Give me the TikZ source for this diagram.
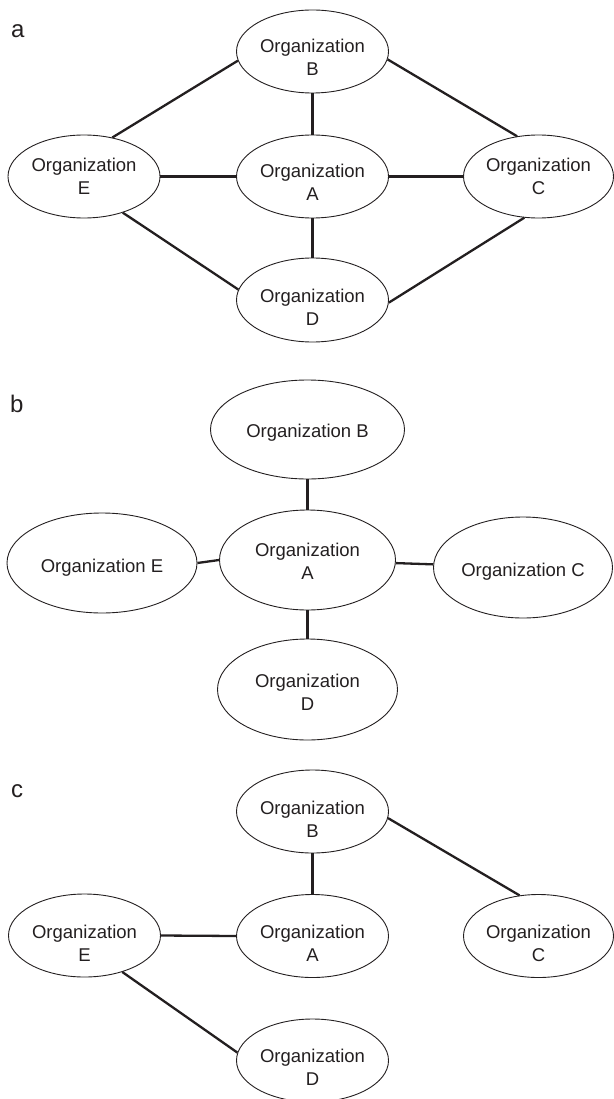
\documentclass[tikz,border=0pt]{standalone}
\usepackage{fontspec}
\setmainfont{Liberation Sans}
\usetikzlibrary{shapes.geometric}
\definecolor{ink}{HTML}{231F20}
\begin{document}
\begin{tikzpicture}[x=1pt,y=-1pt,
  org/.style 2 args={ellipse, draw=ink, line width=0.9pt, inner sep=0pt,
    minimum width=#1, minimum height=#2},
  txt/.style={font=\fontsize{18.5}{22.7}\selectfont, text=ink, align=center, inner sep=0pt},
  link/.style={draw=ink, line width=2.3pt},
  panel/.style={font=\fontsize{24}{28}\selectfont, text=ink, anchor=base west, inner sep=0pt}]
\useasboundingbox (0,0) rectangle (613,1099);

% ---------- panel a ----------
\node[panel] (la) at (11,38) {a};
\node[org={152pt}{83pt}, label={[txt,yshift=-6pt]center:Organization\\B}] (Ba) at (312.5,51.5) {};
\node[org={152pt}{83pt}, label={[txt]center:Organization\\E}] (Ea) at (84,176.5) {};
\node[org={152pt}{83pt}, label={[txt,yshift=-6pt]center:Organization\\A}] (Aa) at (312.5,176.5) {};
\node[org={150pt}{83pt}, label={[txt]center:Organization\\C}] (Ca) at (538.5,176.5) {};
\node[org={152pt}{84pt}, label={[txt,yshift=-7.5pt]center:Organization\\D}] (Da) at (312.5,300) {};
\draw[link] (Ea.54) -- (Ba.187);
\draw[link] (Ba.354) -- (Ca.118);
\draw[link] (Ea.317) -- (Da.172);
\draw[link] (Ca.251) -- (Da.358);
\draw[link] (Ba.south) -- (Aa.north);
\draw[link] (Aa.south) -- (Da.north);
\draw[link] (Ea.east) -- (Aa.west);
\draw[link] (Aa.east) -- (Ca.west);

% ---------- panel b ----------
\node[panel] (lb) at (10,412) {b};
\node[org={194pt}{99pt}, label={[txt,yshift=-3pt]center:Organization B}] (Bb) at (307.5,429.5) {};
\node[org={190pt}{100pt}, label={[txt,yshift=-4.5pt]center:Organization E}] (Eb) at (102,563) {};
\node[org={176pt}{100pt}, label={[txt,yshift=-1.5pt]center:Organization\\A}] (Ab) at (307.5,560) {};
\node[org={179pt}{101pt}, label={[txt,yshift=-4pt]center:Organization C}] (Cb) at (523,567.5) {};
\node[org={180pt}{101pt}, label={[txt,yshift=-2.5pt]center:Organization\\D}] (Db) at (307.5,689.5) {};
\draw[link] (Bb.south) -- (Ab.north);
\draw[link] (Eb.east) -- (Ab.west);
\draw[link] (Ab.-2) -- (Cb.178);
\draw[link] (Ab.south) -- (Db.north);

% ---------- panel c ----------
\node[panel] (lc) at (11,797) {c};
\node[org={152pt}{83pt}, label={[txt,yshift=-8pt]center:Organization\\B}] (Bc) at (312.5,811.5) {};
\node[org={152pt}{83pt}, label={[txt,yshift=-7.5pt]center:Organization\\E}] (Ec) at (84.5,935.5) {};
\node[org={152pt}{83pt}, label={[txt,yshift=-7.5pt]center:Organization\\A}] (Ac) at (312.5,936) {};
\node[org={150pt}{83pt}, label={[txt,yshift=-7.5pt]center:Organization\\C}] (Cc) at (538.5,936) {};
\node[org={152pt}{83pt}, label={[txt,yshift=-7pt]center:Organization\\D}] (Dc) at (312.5,1060.5) {};
\draw[link] (Bc.south) -- (Ac.north);
\draw[link] (Ec.east) -- (Ac.west);
\draw[link] (Bc.355) -- (Cc.115);
\draw[link] (Ec.316) -- (Dc.174);
\end{tikzpicture}
\end{document}
